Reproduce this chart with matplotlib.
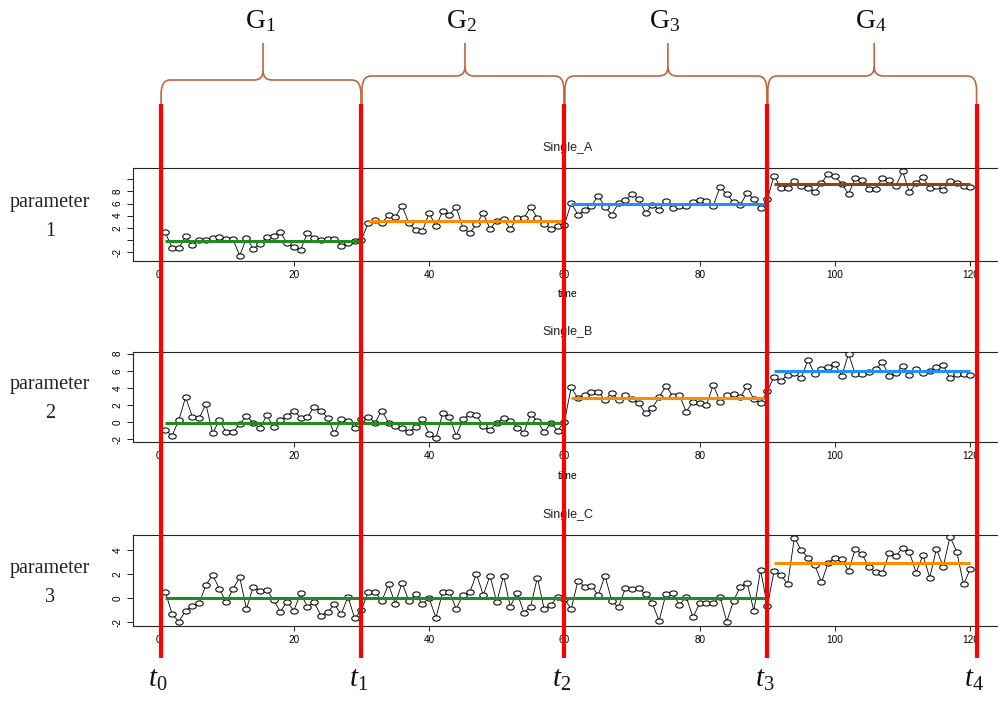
import numpy as np
import matplotlib
matplotlib.use("Agg")
import matplotlib.pyplot as plt
from matplotlib.path import Path
from matplotlib.patches import PathPatch
from matplotlib.transforms import Affine2D

plt.rcParams['mathtext.fontset'] = 'custom'
plt.rcParams['mathtext.rm'] = 'Liberation Serif'
plt.rcParams['mathtext.it'] = 'Liberation Serif:italic'

# ---------------- data ----------------
time = np.arange(1, 121)

single_a = [1.24, -1.34, -1.34, 0.58, -0.9, -0.08, 0.03, 0.25, 0.42, 0.14,
            0.14, -2.6, 0.31, -1.45, -0.63, 0.47, 0.69, 1.3, -0.52, -1.18,
            -1.62, 1.13, 0.31, -0.08, 0.14, 0.2, -0.95, -0.52, -0.13, 0.03,
            2.78, 3.33, 2.78, 4.05, 3.77, 5.64, 2.78, 1.68, 1.41, 4.43,
            2.23, 4.71, 4.16, 5.42, 1.96, 1.13, 2.62, 4.43, 1.79, 3.2,
            3.44, 1.79, 3.6, 3.6, 5.42, 3.6, 2.67, 1.85, 2.23, 2.5,
            6.07, 4.16, 4.87, 5.64, 7.29, 5.42, 4.16, 6.07, 6.52, 7.57,
            6.74, 4.43, 5.8, 4.98, 6.35, 5.26, 5.53, 5.64, 6.18, 6.52,
            6.46, 5.64, 8.72, 7.57, 6.18, 5.8, 7.73, 6.8, 5.26, 6.74,
            10.59, 8.56, 8.56, 9.66, 8.83, 8.56, 7.9, 9.38, 10.92, 10.48,
            9.28, 7.57, 10.2, 9.82, 8.39, 8.39, 10.2, 9.82, 8.94, 11.3,
            7.84, 9.38, 10.37, 8.56, 8.83, 8.28, 9.66, 9.38, 8.83, 8.72]

single_b = [-0.94, -1.6, 0.23, 2.88, 0.62, 0.43, 2.1, -1.33, 0.23, -1.21,
            -1.21, -0.27, 0.7, -0.08, -0.74, 0.78, -0.55, 0.23, 0.7, 1.33,
            0.51, 0.55, 1.79, 1.33, 0.51, -1.33, 0.31, 0.12, -0.66, 0.31,
            0.62, -0.08, 1.33, -0.08, -0.43, -0.74, -1.21, -0.55, 0.31, -1.4,
            -1.91, 1.01, 0.62, -1.6, 0.31, 0.94, 0.78, -0.47, -0.94, -0.08,
            0.43, 0.16, -0.66, -1.25, 0.9, 0.12, -1.21, -0.08, -1.01, 0.04,
            4.05, 2.77, 3.16, 3.55, 3.55, 2.57, 3.43, 2.57, 3.16, 2.65,
            2.18, 1.01, 1.68, 2.88, 4.21, 3.08, 3.16, 1.21, 2.38, 2.26,
            1.99, 4.33, 2.38, 3.16, 3.27, 2.88, 4.21, 2.65, 2.18, 3.66,
            5.3, 4.8, 5.5, 5.69, 5.11, 7.25, 5.58, 6.16, 6.47, 6.74,
            5.42, 7.95, 5.58, 5.58, 5.89, 6.16, 6.98, 5.42, 5.69, 6.59,
            5.5, 6.16, 5.69, 6.0, 6.39, 6.67, 5.11, 5.61, 5.61, 5.5]

single_c = [0.55, -1.3, -1.93, -1.02, -0.64, -0.42, 1.1, 1.93, 0.77, -0.33,
            0.77, 1.73, -0.88, 0.96, 0.63, 0.69, -0.14, -1.1, -0.28, -1.02,
            0.41, -0.69, -0.33, -1.43, -1.16, -0.5, -1.32, 0.13, -1.66, -0.96,
            0.55, 0.55, -0.22, 1.15, -0.47, 1.29, -0.22, 0.33, -0.47, 0.0,
            -1.6, 0.49, 0.55, -0.88, 0.27, 0.49, 2.01, 0.27, 1.87, -0.33,
            1.87, -0.69, 0.47, -1.19, -0.69, 1.71, -0.88, -0.55, 0.13, -0.06,
            -0.88, 1.43, 0.96, 1.02, 0.27, 1.87, -0.22, -0.74, 0.82, 0.74,
            0.82, 0.33, -0.42, -1.87, 0.35, 0.47, -0.55, 0.13, -1.57, -0.42,
            -0.42, -0.42, 0.13, -1.93, -0.22, 0.96, 1.29, -1.02, 2.34, -0.64,
            2.26, 1.93, 1.18, 5.01, 3.99, 3.36, 2.75, 1.32, 2.95, 3.3,
            3.22, 2.26, 4.07, 3.63, 2.61, 2.15, 2.06, 3.72, 3.5, 4.18,
            3.8, 2.12, 3.58, 1.71, 4.07, 2.61, 5.09, 3.86, 1.15, 2.42]

# segment means (start, end, level)
seg_start_a = [1, 31, 61, 91]
seg_end_a = [30, 60, 90, 120]
level_a = [-0.25, 3.2, 6.0, 9.2]

seg_start_b = [1, 61, 91]
seg_end_b = [60, 90, 120]
level_b = [-0.08, 2.84, 5.96]

seg_start_c = [1, 91]
seg_end_c = [90, 120]
level_c = [0.0, 2.94]

titles = ["Single_A", "Single_B", "Single_C"]
param_labels = ["1", "2", "3"]
group_labels = [r"$\mathrm{G}_{1}$", r"$\mathrm{G}_{2}$", r"$\mathrm{G}_{3}$", r"$\mathrm{G}_{4}$"]
time_labels = [r"$t_{0}$", r"$t_{1}$", r"$t_{2}$", r"$t_{3}$", r"$t_{4}$"]
boundaries = [0.3, 30, 60, 90, 121]   # change points on the time axis
xticks = [0, 20, 40, 60, 80, 100, 120]

# ---------------- styles ----------------
GREEN = '#228B22'
ORANGE = '#FF8C00'
BLUE = '#1E90FF'
BROWN = '#8B4513'
colors_a = [GREEN, ORANGE, BLUE, BROWN]
colors_b = [GREEN, ORANGE, BLUE]
colors_c = [GREEN, ORANGE]
BRACE = '#C2653F'

W, H = 998, 703
fig = plt.figure(figsize=(W / 100, H / 100), dpi=100)
fig.patch.set_facecolor('white')

xlim = (-3.76, 124.76)
ax_left = 133.1 / W
ax_width = 869.4 / W


def px_axes(top, bottom):
    return [ax_left, (H - bottom) / H, ax_width, (bottom - top) / H]


panels = [
    dict(rect=px_axes(167.7, 260.7), y=single_a, starts=seg_start_a, ends=seg_end_a,
         levels=level_a, colors=colors_a, ylim=(-3.43, 11.91),
         yticks=[-2, 0, 2, 4, 6, 8, 10], yticklabels=['-2', '', '2', '4', '6', '8', ''],
         xlabel=True),
    dict(rect=px_axes(351.7, 442.3), y=single_b, starts=seg_start_b, ends=seg_end_b,
         levels=level_b, colors=colors_b, ylim=(-2.37, 8.22),
         yticks=[-2, 0, 2, 4, 6, 8], yticklabels=['-2', '0', '2', '4', '6', '8'],
         xlabel=True),
    dict(rect=px_axes(535.0, 626.0), y=single_c, starts=seg_start_c, ends=seg_end_c,
         levels=level_c, colors=colors_c, ylim=(-2.29, 5.23),
         yticks=[-2, 0, 2, 4], yticklabels=['-2', '0', '2', '4'],
         xlabel=False),
]

ell = Path.unit_circle().transformed(Affine2D().scale(1.45, 1.0))
sans = 'Liberation Sans'
axes = []
for i, p in enumerate(panels):
    ax = fig.add_axes(p['rect'])
    ax.set_zorder(1)
    ax.plot(time, p['y'], color='black', lw=0.6, zorder=2)
    ax.plot(time, p['y'], linestyle='none', marker=ell, markersize=5.4,
            markerfacecolor='white', markeredgecolor='black', markeredgewidth=0.75, zorder=3)
    for s, e, lv, c in zip(p['starts'], p['ends'], p['levels'], p['colors']):
        ax.plot([s, e], [lv, lv], color=c, lw=2.2, solid_capstyle='butt', zorder=4)
    ax.set_xlim(*xlim)
    ax.set_ylim(*p['ylim'])
    ax.set_xticks(xticks)
    ax.set_xticklabels([str(t) for t in xticks], fontfamily=sans, fontsize=7.2)
    ax.set_yticks(p['yticks'])
    ax.set_yticklabels(p['yticklabels'], fontfamily=sans, fontsize=7.2,
                       rotation=90, va='center')
    ax.tick_params(axis='x', length=3.5, width=0.6, pad=3)
    ax.tick_params(axis='y', length=4.5, width=0.6, pad=3)
    for sp in ax.spines.values():
        sp.set_linewidth(0.8)
        sp.set_color('#222222')
    ax.set_title(titles[i], fontfamily=sans, fontsize=9, pad=12, color='#222222')
    if p['xlabel']:
        ax.set_xlabel('time', fontfamily=sans, fontsize=7.5, labelpad=7)
    axes.append(ax)

# ---------------- overlay (red lines, braces, labels) ----------------
ov = fig.add_axes([0, 0, 1, 1])
ov.set_zorder(5)
ov.set_xlim(0, W)
ov.set_ylim(H, 0)
ov.axis('off')
ov.patch.set_alpha(0)

fig.canvas.draw()
bx = [axes[2].transData.transform((b, 0))[0] for b in boundaries]

red_top, red_bot = 104, 658
for x in bx:
    ov.plot([x, x], [red_top, red_bot], color='#FF0000', lw=3.0, solid_capstyle='butt', zorder=6)

brace_y = [80, 76, 76, 76]
tip_y = 43
for k in range(4):
    xl, xr = bx[k] + 0.5, bx[k + 1] - 0.5
    yh = brace_y[k]
    xm = (xl + xr) / 2 + 2
    rc, rv, rt = 9, 14, 9
    verts = [(xl, red_top), (xl, yh + rv), (xl, yh), (xl + rc, yh),
             (xm - rt, yh), (xm, yh), (xm, yh - rt), (xm, tip_y),
             (xm, yh - rt), (xm, yh), (xm + rt, yh),
             (xr - rc, yh), (xr, yh), (xr, yh + rv), (xr, red_top)]
    codes = [Path.MOVETO, Path.LINETO, Path.CURVE3, Path.CURVE3,
             Path.LINETO, Path.CURVE3, Path.CURVE3, Path.LINETO,
             Path.MOVETO, Path.CURVE3, Path.CURVE3,
             Path.LINETO, Path.CURVE3, Path.CURVE3, Path.LINETO]
    ov.add_patch(PathPatch(Path(verts, codes), facecolor='none', edgecolor=BRACE,
                           lw=1.2, zorder=5))
    ov.text(xm - 3, 28, group_labels[k], fontsize=20, ha='center', va='baseline',
            color='#111111')

for k, x in enumerate(bx):
    ov.text(x - 3, 687, time_labels[k], fontsize=21, ha='center', va='baseline',
            color='#111111')

for i, ax in enumerate(axes):
    pos = ax.get_position()
    cy = H - (pos.y0 + pos.height / 2) * H
    ov.text(50, cy - 12, 'parameter', fontfamily='Liberation Serif', fontsize=14.5,
            ha='center', va='center', color='#222222')
    ov.text(50, cy + 17, param_labels[i], fontfamily='Liberation Serif', fontsize=14.5,
            ha='center', va='center', color='#222222')

fig.savefig('out.png', dpi=100)
